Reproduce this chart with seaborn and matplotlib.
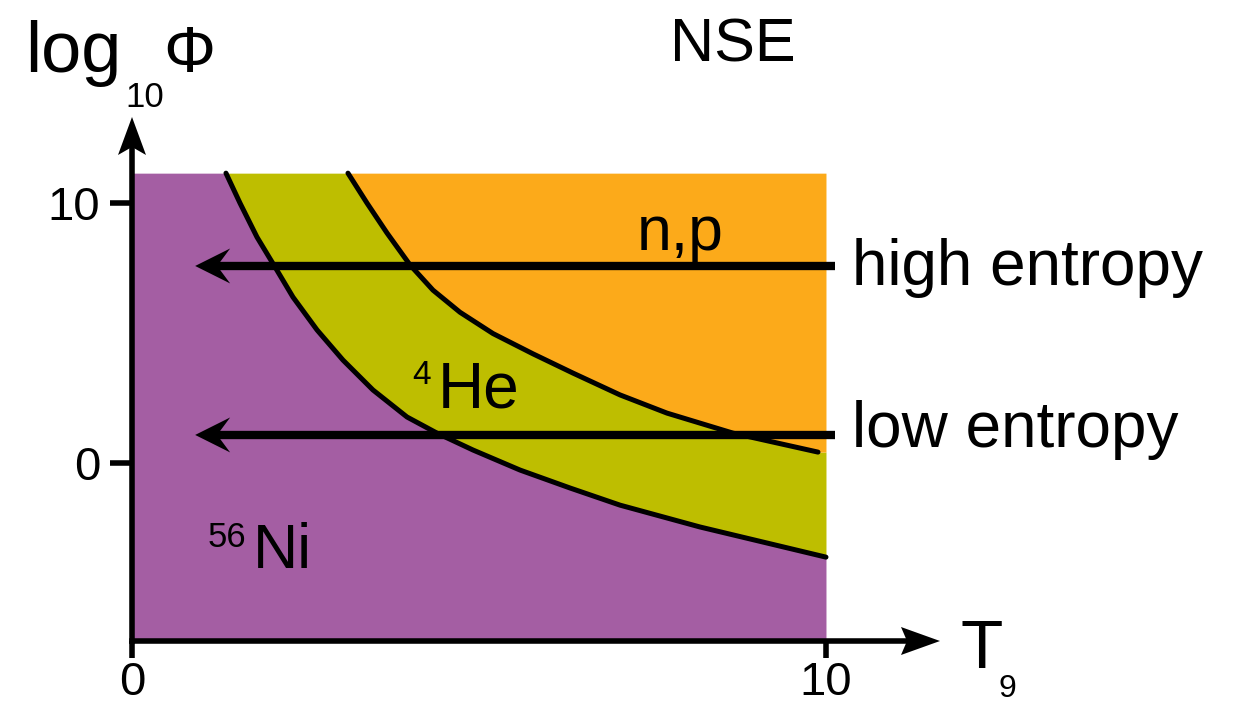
import numpy as np
import matplotlib
matplotlib.use("Agg")
import matplotlib.pyplot as plt
from matplotlib.patches import Polygon
from matplotlib.transforms import ScaledTranslation
import seaborn as sns

# Boundary between the 56Ni-dominated and 4He-dominated regions
ni_he_T = [1.354, 1.556, 1.801, 2.061, 2.320, 2.666, 3.040, 3.472, 3.963, 4.395,
           4.914, 5.591, 6.311, 7.032, 8.184, 10.0]
ni_he_phi = [11.15, 10.0, 8.69, 7.54, 6.38, 5.12, 3.96, 2.81, 1.77, 1.15,
             0.50, -0.27, -0.96, -1.62, -2.46, -3.62]

# Boundary between the 4He-dominated and free nucleon (n,p) regions
he_np_T = [3.112, 3.386, 3.674, 4.006, 4.337, 4.726, 5.202, 5.778, 6.354, 7.032,
           7.709, 8.660, 9.885]
he_np_phi = [11.15, 10.0, 8.85, 7.62, 6.65, 5.80, 4.98, 4.20, 3.46, 2.62,
             1.92, 1.15, 0.42]

# Expansion tracks (constant log10 Phi), running from hot to cool
track_names = ["high entropy", "low entropy"]
track_phi = [7.58, 1.08]
track_T_start = 10.13
track_T_end = 0.91

# Extent of the NSE diagram
T_max = 10.0
phi_top = 11.15

x_ticks = [0, 10]
y_ticks = [0, 10]

purple = "#A45EA3"
green = "#BEBE00"
orange = "#FCAA1A"

sns.set_style("ticks")
plt.rcParams["font.family"] = ["Liberation Sans", "DejaVu Sans"]

W, H = 1233, 704
fig = plt.figure(figsize=(W / 100, H / 100), dpi=100)
ax = fig.add_axes([132 / W, 63 / H, (940 - 132) / W, (641 - 117) / H])
x_lim = (0, 11.643)
y_lim = (-6.846, 13.31)
ax.set_xlim(*x_lim)
ax.set_ylim(*y_lim)

# Shaded phase regions
Tg = np.linspace(0, T_max, 1001)
lo = np.interp(Tg, ni_he_T, ni_he_phi)
hi = np.interp(Tg, he_np_T, he_np_phi)
ax.fill_between(Tg, y_lim[0], lo, color=purple, lw=0, zorder=1)
ax.fill_between(Tg, lo, hi, color=green, lw=0, zorder=1)
ax.fill_between(Tg, hi, phi_top, color=orange, lw=0, zorder=1)

# Phase boundaries
sns.lineplot(x=ni_he_T, y=ni_he_phi, sort=False, estimator=None, color="black",
             lw=3.6, ax=ax, zorder=2)
sns.lineplot(x=he_np_T, y=he_np_phi, sort=False, estimator=None, color="black",
             lw=3.6, ax=ax, zorder=2)


def arrowhead(x, y, angle_deg, length, half_width, notch, zorder=5):
    """Filled, notched arrowhead (sizes in pixels) with its tip at data point (x, y)."""
    verts = np.array([[0, 0], [-length, half_width], [-length + notch, 0],
                      [-length, -half_width]], dtype=float)
    a = np.deg2rad(angle_deg)
    rot = np.array([[np.cos(a), -np.sin(a)], [np.sin(a), np.cos(a)]])
    verts = verts @ rot.T / fig.dpi
    trans = fig.dpi_scale_trans + ScaledTranslation(x, y, ax.transData)
    ax.add_patch(Polygon(verts, closed=True, facecolor="black", edgecolor="none",
                         transform=trans, clip_on=False, zorder=zorder))


def px_to_dx(p):
    return p * (x_lim[1] - x_lim[0]) / ax.bbox.width


def px_to_dy(p):
    return p * (y_lim[1] - y_lim[0]) / ax.bbox.height


# Expansion tracks with arrowheads
for phi in track_phi:
    ax.plot([track_T_start, track_T_end + px_to_dx(15)], [phi, phi], color="black",
            lw=6, solid_capstyle="butt", zorder=3)
    arrowhead(track_T_end, phi, 180, 35, 17.5, 13, zorder=3)

# Axes drawn as arrows
for side in ["top", "right"]:
    ax.spines[side].set_visible(False)
for side in ["left", "bottom"]:
    ax.spines[side].set_linewidth(4)
    ax.spines[side].set_color("black")
    ax.spines[side].set_zorder(4)
ax.spines["left"].set_bounds(y_lim[0], y_lim[1] - px_to_dy(15))
ax.spines["bottom"].set_bounds(x_lim[0], x_lim[1] - px_to_dx(15))
arrowhead(0, y_lim[1], 90, 38, 14, 8)
arrowhead(x_lim[1], y_lim[0], 0, 39, 14, 6)

ax.set_xticks(x_ticks)
ax.set_yticks(y_ticks)
ax.tick_params(axis="y", direction="out", length=16, width=4, pad=7,
               labelsize=34, color="black", labelcolor="black")
ax.tick_params(axis="x", direction="out", length=12, width=4, pad=2.5,
               labelsize=34, color="black", labelcolor="black")
ax.set_xlabel("")
ax.set_ylabel("")


def put(px, py, s, size):
    fig.text(px / W, 1 - py / H, s, fontsize=size, ha="left", va="baseline",
             color="black")


# Axis titles
put(25, 72, "log", 52)
put(125, 107, "10", 25)
put(163, 72, "Φ", 47)
put(960, 668, "T", 50)
put(998, 697, "9", 23)
put(670, 62, "NSE", 44)

# Region labels
put(637, 250, "n,p", 45)
put(412, 384, "4", 24)
put(438, 407, "He", 46)
put(208, 547, "56", 25)
put(253, 568, "Ni", 45)

# Track labels
put(852, 285, track_names[0], 46)
put(852, 447, track_names[1], 46)

fig.savefig("out.png", dpi=100)
